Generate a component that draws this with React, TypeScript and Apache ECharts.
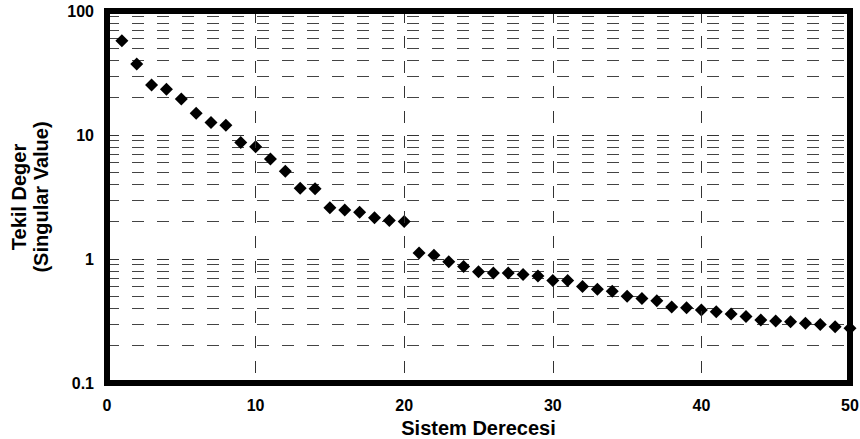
import React, { useEffect, useRef } from "react";
import * as echarts from "echarts";

const orders: number[] = Array.from({ length: 50 }, (_, i) => i + 1);
const singularValues: number[] = [
  57.5, 37.4, 25.3, 23.4, 19.5, 15.0, 12.6, 12.0, 8.7, 8.05,
  6.4, 5.1, 3.72, 3.68, 2.59, 2.48, 2.38, 2.15, 2.04, 2.01,
  1.12, 1.07, 0.95, 0.87, 0.79, 0.77, 0.77, 0.75, 0.73, 0.67,
  0.67, 0.6, 0.57, 0.55, 0.5, 0.48, 0.46, 0.41, 0.405, 0.388,
  0.376, 0.36, 0.343, 0.322, 0.316, 0.312, 0.303, 0.297, 0.284, 0.276,
];
const minorGridValues: number[] = [
  0.2, 0.3, 0.4, 0.5, 0.6, 0.7, 0.8, 0.9,
  2, 3, 4, 5, 6, 7, 8, 9,
  20, 30, 40, 50, 60, 70, 80, 90,
];
const xTitle = "Sistem Derecesi";
const yTitle = "Tekil Deger\n(Singular Value)";

const FONT = "Liberation Sans";
const DASH = [12, 13];
const frameLine = () => ({ show: true, onZero: false, lineStyle: { color: "#000000", width: 6, type: "solid", cap: "square" } });

export default function App() {
  const ref = useRef<HTMLDivElement>(null);
  useEffect(() => {
    if (!ref.current) return;
    const chart = echarts.init(ref.current, undefined, { renderer: "svg" });
    chart.setOption({
      animation: false,
      backgroundColor: "#ffffff",
      grid: {
        left: 107,
        right: 10,
        top: 11,
        bottom: 56,
        outerBoundsMode: "none",
      },
      xAxis: [
        {
          type: "value",
          min: 0,
          max: 50,
          interval: 10,
          name: xTitle,
          nameLocation: "middle",
          nameGap: 31,
          nameTextStyle: { fontFamily: FONT, fontWeight: "bold", fontSize: 20, color: "#000" },
          axisLine: frameLine(),
          axisTick: { show: false },
          axisLabel: { fontFamily: FONT, fontWeight: "bold", fontSize: 16, color: "#000", margin: 14 },
          splitLine: { show: true, lineStyle: { type: DASH, color: "#333", width: 1 } },
          z: 20,
        },
        {
          type: "value",
          position: "top",
          min: 0,
          max: 50,
          interval: 10,
          axisLine: frameLine(),
          axisTick: { show: false },
          axisLabel: { show: false },
          splitLine: { show: false },
          z: 20,
        },
      ],
      yAxis: [
        {
          type: "log",
          logBase: 10,
          min: 0.1,
          max: 100,
          name: yTitle,
          nameLocation: "middle",
          nameRotate: 90,
          nameGap: 55,
          nameTextStyle: { fontFamily: FONT, fontWeight: "bold", fontSize: 20, color: "#000", lineHeight: 22 },
          axisLine: frameLine(),
          axisTick: { show: false },
          axisLabel: { fontFamily: FONT, fontWeight: "bold", fontSize: 16, color: "#000", margin: 13 },
          splitLine: { show: true, lineStyle: { type: DASH, color: "#333", width: 1 } },
          z: 20,
        },
        {
          type: "log",
          logBase: 10,
          min: 0.1,
          max: 100,
          position: "right",
          axisLine: frameLine(),
          axisTick: { show: false },
          axisLabel: { show: false },
          splitLine: { show: false },
          z: 20,
        },
      ],
      series: [
        {
          type: "scatter",
          xAxisIndex: 0,
          yAxisIndex: 0,
          symbol: "diamond",
          symbolSize: 13,
          itemStyle: { color: "#000", opacity: 1 },
          data: orders.map((o, i) => [o, singularValues[i]]),
          z: 5,
          markLine: {
            silent: true,
            symbol: ["none", "none"],
            label: { show: false },
            lineStyle: { type: DASH, color: "#444", width: 1 },
            emphasis: { disabled: true },
            data: minorGridValues.map((v) => ({ yAxis: v })),
          },
        },
      ],
    });
    return () => chart.dispose();
  }, []);
  return (
    <div
      ref={ref}
      style={{ position: "fixed", left: 0, top: 0, width: 860, height: 439 }}
    />
  );
}
